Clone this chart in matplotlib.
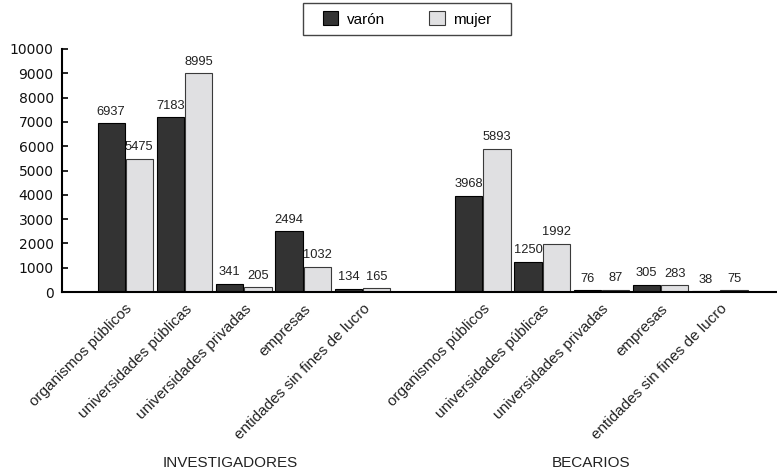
import numpy as np
import matplotlib
matplotlib.use('Agg')
import matplotlib.pyplot as plt
import matplotlib.transforms as mtransforms
from matplotlib.patches import Rectangle

categorias = ['organismos públicos', 'universidades públicas', 'universidades privadas',
              'empresas', 'entidades sin fines de lucro']
grupos = ['INVESTIGADORES', 'BECARIOS']
inv_varon = [6937, 7183, 341, 2494, 134]
inv_mujer = [5475, 8995, 205, 1032, 165]
bec_varon = [3968, 1250, 76, 305, 38]
bec_mujer = [5893, 1992, 87, 283, 75]
y_ticks = list(range(0, 10001, 1000))

DARK = '#333333'
LIGHT = '#e0e0e2'
SANS = ['Liberation Sans', 'DejaVu Sans']

fig = plt.figure(figsize=(7.77, 4.75), dpi=100)
ax = fig.add_axes([0.0798, 0.385, 0.9202, 0.512])

n = len(categorias)
x_inv = np.arange(n)
x_bec = np.arange(n) + n + 1.03
xs = np.concatenate([x_inv, x_bec])
varon = inv_varon + bec_varon
mujer = inv_mujer + bec_mujer

w = 0.46
off = 0.237
b1 = ax.bar(xs - off, varon, w, color=DARK, edgecolor='black', linewidth=0.8, label='varón')
b2 = ax.bar(xs + off, mujer, w, color=LIGHT, edgecolor='#3a3a3a', linewidth=0.8, label='mujer')

for bars in (b1, b2):
    for r in bars:
        ax.annotate(f'{int(r.get_height())}', (r.get_x() + r.get_width() / 2, r.get_height()),
                    xytext=(0, 4), textcoords='offset points', ha='center', va='bottom',
                    fontsize=9.3, family=SANS, color='#222222')

ax.set_xlim(-1.066, 10.99)
ax.set_ylim(0, 10000)
ax.set_yticks(y_ticks)
ax.set_yticklabels([str(t) for t in y_ticks], family='DejaVu Sans', fontsize=10, color='#111111')
ax.tick_params(axis='y', direction='in', length=4.5, width=1.2, pad=6)
ax.set_xticks(xs)
ax.set_xticklabels(categorias * 2, rotation=45, ha='right', rotation_mode='anchor',
                   family=SANS, fontsize=11, color='#222222')
ax.tick_params(axis='x', length=0, pad=7)

for s in ('top', 'right'):
    ax.spines[s].set_visible(False)
ax.spines['left'].set_linewidth(1.5)
ax.spines['bottom'].set_linewidth(1.5)

# group captions under the rotated labels
trans = mtransforms.blended_transform_factory(ax.transData, fig.transFigure)
ax.text(1.77, 0.01, grupos[0], transform=trans, ha='center', va='bottom',
        family=SANS, fontsize=11, color='#222222')
ax.text(x_bec[2] - 0.17, 0.01, grupos[1], transform=trans, ha='center', va='bottom',
        family=SANS, fontsize=11, color='#222222')

# legend without its own frame, boxed by a wider rectangle like the original
leg = fig.legend(handles=[b1, b2], loc='center', bbox_to_anchor=(0.524, 0.96), ncol=2,
                 frameon=False, prop={'family': SANS, 'size': 11},
                 handlelength=1.0, handleheight=1.0, columnspacing=2.9, borderpad=0.3,
                 handletextpad=0.55)
fig.add_artist(Rectangle((303 / 777, 1 - 35 / 475), 208 / 777, 32 / 475,
                         transform=fig.transFigure, fill=False,
                         edgecolor='#444444', linewidth=1.0))

fig.savefig('out.png', dpi=100)
